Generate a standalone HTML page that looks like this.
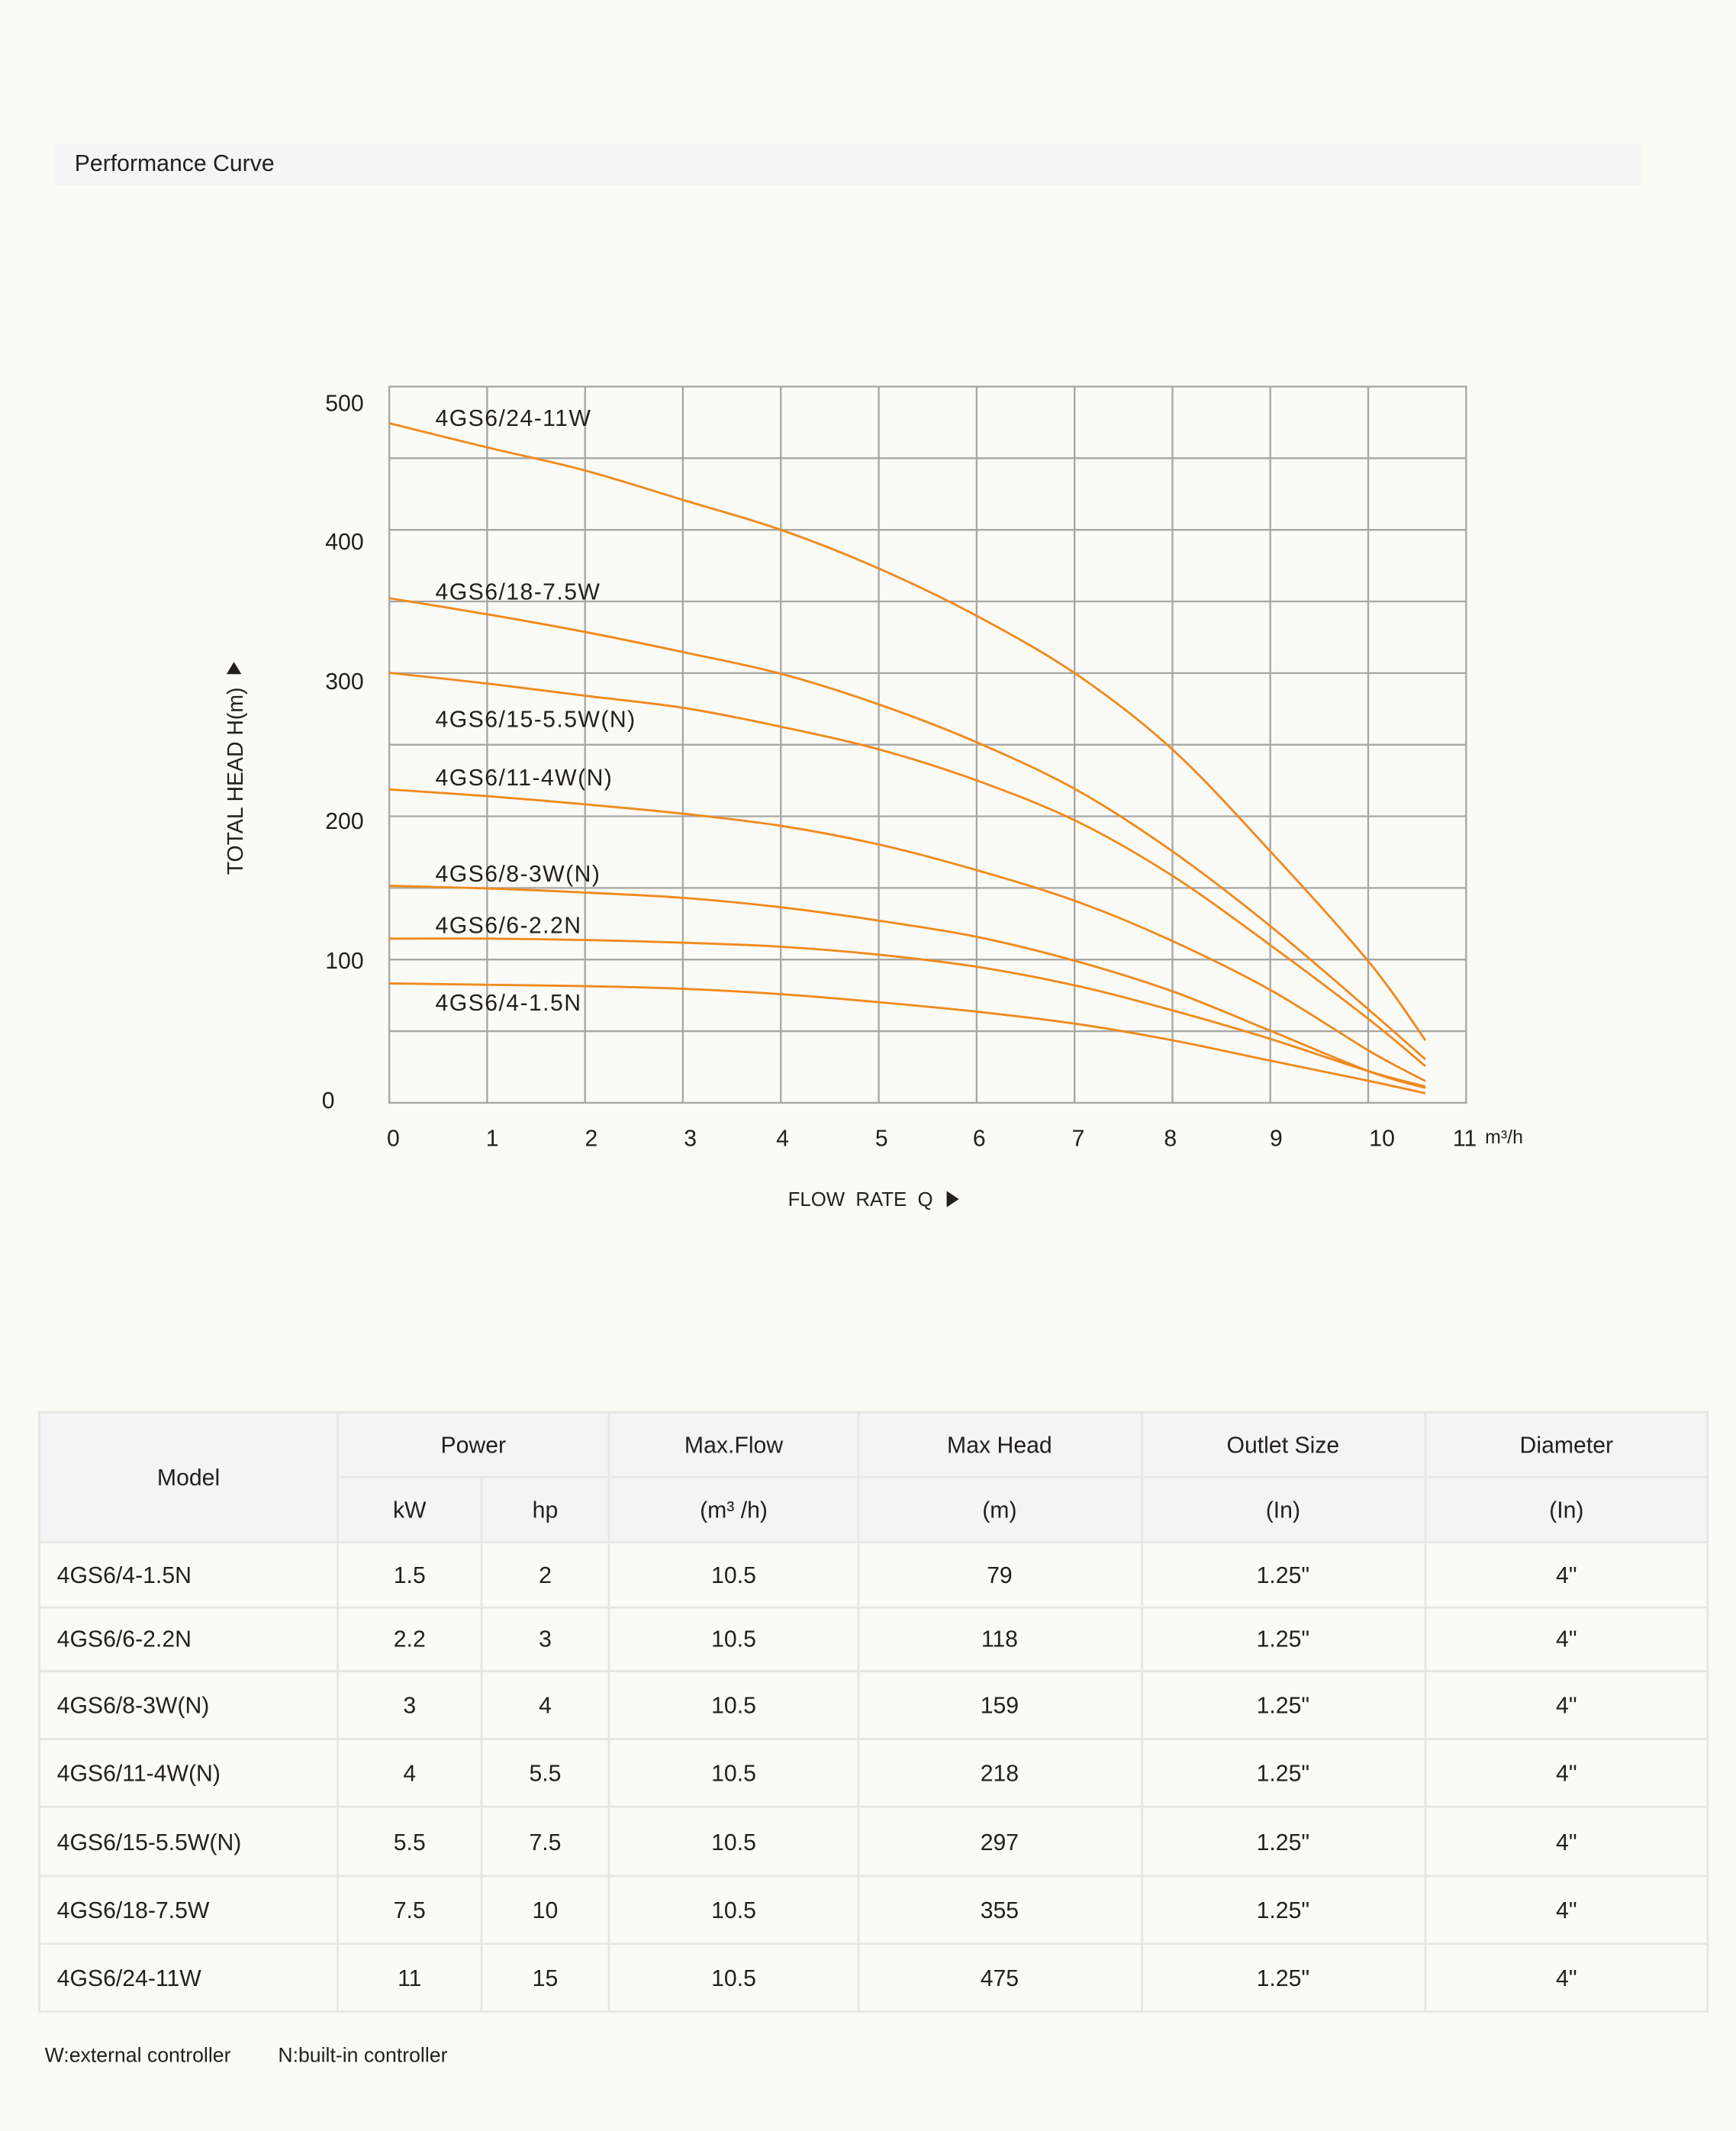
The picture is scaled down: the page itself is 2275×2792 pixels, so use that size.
<!DOCTYPE html>
<html><head><meta charset="utf-8"><style>
html,body{margin:0;padding:0;background:#fafaf7;}
svg{display:block;}
text{font-family:"Liberation Sans",sans-serif;fill:#231f20;}
</style></head><body>
<svg id="s" width="2275" height="2792" viewBox="0 0 1280 1571" preserveAspectRatio="none" xmlns="http://www.w3.org/2000/svg">
<rect x="0" y="0" width="1280" height="1571" fill="#fafaf7"/>
<rect x="40" y="106" width="1170" height="31" fill="#f5f5f5"/>
<text x="55" y="126" font-size="17">Performance Curve</text>

<g stroke="#a6a6a6" stroke-width="1.3" fill="none">
<rect x="287" y="285" width="794" height="528"/>
<path d="M359.2 285V813M431.4 285V813M503.5 285V813M575.7 285V813M647.9 285V813M720.1 285V813M792.3 285V813M864.5 285V813M936.6 285V813M1008.8 285V813"/>
<path d="M287 337.8H1081M287 390.6H1081M287 443.4H1081M287 496.2H1081M287 549H1081M287 601.8H1081M287 654.6H1081M287 707.4H1081M287 760.2H1081"/>
</g>

<g id="curves" stroke="#f08a1c" stroke-width="1.6" fill="none" stroke-linejoin="round">
<polyline points="287,312 360,330 432,347 505,369 577,391 650,420 722,455 795,498 865,553 937,628 1010,710 1051,767"/>
<polyline points="287,441 360,453 432,466 505,481 577,497 650,520 722,548 795,583 865,628 937,683 1010,745 1051,781"/>
<polyline points="287,496 360,504 432,513 505,522 577,536 650,553 722,576 795,606 865,646 937,697 1010,752 1051,786"/>
<polyline points="287,582 360,587 432,593 505,600 577,609 650,623 722,642 795,665 865,694 937,730 1010,775 1051,797"/>
<polyline points="287,653 360,655 432,658 505,662 577,669 650,679 722,691 795,709 865,731 937,760 1010,790 1051,802"/>
<polyline points="287,692 360,692 432,693 505,695 577,698 650,704 722,713 795,727 865,745 937,766 1010,790 1051,801"/>
<polyline points="287,725 360,726 432,727 505,729 577,733 650,739 722,746 795,755 865,767 937,782 1010,797 1051,806"/>
</g>

<g font-size="17" letter-spacing="0.8">
<text x="321" y="314">4GS6/24-11W</text>
<text x="321" y="442">4GS6/18-7.5W</text>
<text x="321" y="536">4GS6/15-5.5W(N)</text>
<text x="321" y="579">4GS6/11-4W(N)</text>
<text x="321" y="650">4GS6/8-3W(N)</text>
<text x="321" y="688">4GS6/6-2.2N</text>
<text x="321" y="745">4GS6/4-1.5N</text>
</g>

<g font-size="17" text-anchor="middle">
<text x="254" y="303">500</text>
<text x="254" y="405">400</text>
<text x="254" y="508">300</text>
<text x="254" y="611">200</text>
<text x="254" y="714">100</text>
<text x="242" y="817">0</text>
<text x="290" y="845">0</text>
<text x="363" y="845">1</text>
<text x="436" y="845">2</text>
<text x="509" y="845">3</text>
<text x="577" y="845">4</text>
<text x="650" y="845">5</text>
<text x="722" y="845">6</text>
<text x="795" y="845">7</text>
<text x="863" y="845">8</text>
<text x="941" y="845">9</text>
<text x="1019" y="845">10</text>
<text x="1080" y="845">11</text>
</g>
<text x="1095" y="843" font-size="14">m³/h</text>
<text x="581" y="889" font-size="14.5" xml:space="preserve">FLOW  RATE  Q</text>
<polygon points="698,878 707,884 698,890" fill="#231f20"/>
<text transform="translate(179,645) rotate(-90)" font-size="16">TOTAL HEAD H(m)</text>
<polygon points="167,497 178,497 172.5,488" fill="#231f20"/>

<!-- table -->
<rect x="29" y="1041" width="1230" height="96" fill="#f4f4f4"/>
<g stroke="#e6e6e6" stroke-width="1.6" fill="none">
<rect x="29" y="1041" width="1230" height="442"/>
<path d="M249 1041V1483M449 1041V1483M633 1041V1483M842 1041V1483M1051 1041V1483M355 1089V1483"/>
<path d="M249 1089H1259M29 1137H1259M29 1185H1259M29 1232H1259M29 1282H1259M29 1332H1259M29 1383H1259M29 1433H1259"/>
</g>
<g font-size="17" text-anchor="middle">
<text x="139" y="1095">Model</text>
<text x="349" y="1071">Power</text>
<text x="541" y="1071">Max.Flow</text>
<text x="737" y="1071">Max Head</text>
<text x="946" y="1071">Outlet Size</text>
<text x="1155" y="1071">Diameter</text>
<text x="302" y="1119">kW</text>
<text x="402" y="1119">hp</text>
<text x="541" y="1119">(m³ /h)</text>
<text x="737" y="1119">(m)</text>
<text x="946" y="1119">(In)</text>
<text x="1155" y="1119">(In)</text>
</g>
<g font-size="17">
<text x="42" y="1167">4GS6/4-1.5N</text>
<text x="42" y="1214">4GS6/6-2.2N</text>
<text x="42" y="1263">4GS6/8-3W(N)</text>
<text x="42" y="1313">4GS6/11-4W(N)</text>
<text x="42" y="1364">4GS6/15-5.5W(N)</text>
<text x="42" y="1414">4GS6/18-7.5W</text>
<text x="42" y="1464">4GS6/24-11W</text>
</g>
<g font-size="17" text-anchor="middle">
<text x="302" y="1167">1.5</text><text x="402" y="1167">2</text><text x="541" y="1167">10.5</text><text x="737" y="1167">79</text><text x="946" y="1167">1.25"</text><text x="1155" y="1167">4"</text>
<text x="302" y="1214">2.2</text><text x="402" y="1214">3</text><text x="541" y="1214">10.5</text><text x="737" y="1214">118</text><text x="946" y="1214">1.25"</text><text x="1155" y="1214">4"</text>
<text x="302" y="1263">3</text><text x="402" y="1263">4</text><text x="541" y="1263">10.5</text><text x="737" y="1263">159</text><text x="946" y="1263">1.25"</text><text x="1155" y="1263">4"</text>
<text x="302" y="1313">4</text><text x="402" y="1313">5.5</text><text x="541" y="1313">10.5</text><text x="737" y="1313">218</text><text x="946" y="1313">1.25"</text><text x="1155" y="1313">4"</text>
<text x="302" y="1364">5.5</text><text x="402" y="1364">7.5</text><text x="541" y="1364">10.5</text><text x="737" y="1364">297</text><text x="946" y="1364">1.25"</text><text x="1155" y="1364">4"</text>
<text x="302" y="1414">7.5</text><text x="402" y="1414">10</text><text x="541" y="1414">10.5</text><text x="737" y="1414">355</text><text x="946" y="1414">1.25"</text><text x="1155" y="1414">4"</text>
<text x="302" y="1464">11</text><text x="402" y="1464">15</text><text x="541" y="1464">10.5</text><text x="737" y="1464">475</text><text x="946" y="1464">1.25"</text><text x="1155" y="1464">4"</text>
</g>
<text x="33" y="1520" font-size="15">W:external controller</text>
<text x="205" y="1520" font-size="15">N:built-in controller</text>
</svg>
<script>
(function(){
var ns="http://www.w3.org/2000/svg";
var g=document.getElementById("curves");
var pls=[].slice.call(g.querySelectorAll("polyline"));
pls.forEach(function(pl){
  var p=pl.getAttribute("points").trim().split(/\s+/).map(function(s){return s.split(",").map(Number);});
  var d="M"+p[0][0]+" "+p[0][1];
  for(var i=0;i<p.length-1;i++){
    var p0=p[Math.max(i-1,0)],p1=p[i],p2=p[i+1],p3=p[Math.min(i+2,p.length-1)];
    var c1x=p1[0]+(p2[0]-p0[0])/6,c1y=p1[1]+(p2[1]-p0[1])/6;
    var c2x=p2[0]-(p3[0]-p1[0])/6,c2y=p2[1]-(p3[1]-p1[1])/6;
    d+=" C"+c1x.toFixed(2)+" "+c1y.toFixed(2)+" "+c2x.toFixed(2)+" "+c2y.toFixed(2)+" "+p2[0]+" "+p2[1];
  }
  var path=document.createElementNS(ns,"path");
  path.setAttribute("d",d);
  g.replaceChild(path,pl);
});
})();
</script>
</body></html>
